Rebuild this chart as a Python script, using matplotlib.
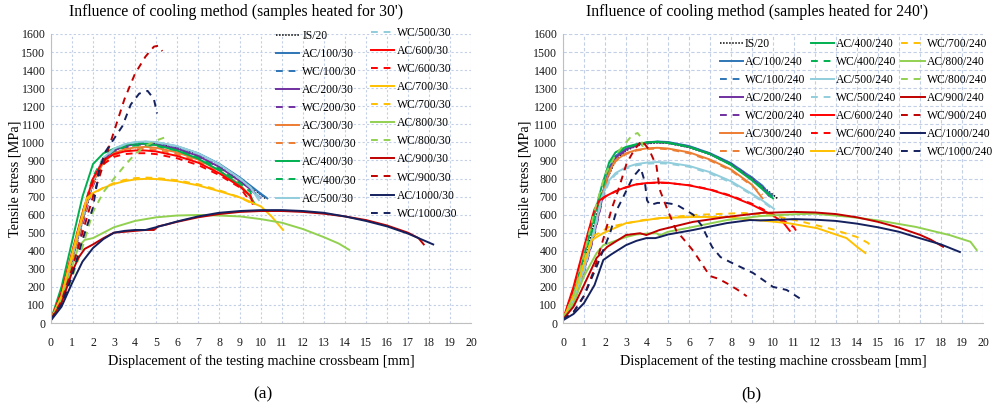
import matplotlib
matplotlib.use("Agg")
import matplotlib.pyplot as plt

plt.rcParams['font.family'] = ['Liberation Serif', 'DejaVu Serif']

# ---------------- data, panel (a): 30 min ----------------
is20 = ([0, 0.5, 1, 1.5, 2, 2.5, 3, 3.5, 4, 4.5, 5, 6, 7, 8, 9, 9.5, 10, 10.2],
        [20, 140, 340, 560, 770, 900, 955, 980, 993, 998, 995, 972, 935, 878, 800, 755, 710, 690])

xm30 = [0, 0.5, 1, 1.5, 2, 2.5, 3, 3.5, 4, 4.5, 5, 6, 7, 8, 9, 9.5]
ac100_30 = (xm30 + [10, 10.3], [20, 150, 360, 580, 790, 910, 960, 985, 998, 1003, 1000, 978, 940, 882, 805, 760, 715, 690])
wc100_30 = (xm30 + [10, 10.2], [20, 140, 340, 560, 770, 900, 955, 980, 995, 1000, 997, 975, 936, 878, 800, 755, 712, 695])
ac200_30 = (xm30 + [9.9], [20, 150, 350, 570, 780, 905, 955, 978, 990, 992, 988, 965, 925, 865, 785, 740, 700])
wc200_30 = (xm30 + [10.0], [20, 130, 320, 540, 760, 890, 945, 970, 985, 990, 986, 962, 922, 862, 785, 740, 690])
ac300_30 = (xm30 + [9.6], [20, 150, 360, 580, 780, 890, 940, 962, 972, 975, 970, 945, 905, 845, 765, 700, 672])
wc300_30 = (xm30, [20, 140, 340, 560, 770, 880, 930, 952, 962, 965, 960, 935, 895, 835, 760, 690])
ac400_30 = (xm30 + [9.7], [20, 200, 450, 700, 880, 940, 965, 985, 995, 993, 985, 955, 910, 845, 760, 700, 660])
wc400_30 = (xm30 + [9.6], [20, 160, 380, 610, 810, 915, 955, 975, 983, 985, 980, 955, 915, 855, 775, 725, 680])
ac500_30 = (xm30 + [9.9], [20, 150, 360, 580, 790, 915, 965, 990, 1002, 1005, 1002, 980, 940, 880, 800, 750, 680])
wc500_30 = (xm30 + [10.0], [20, 140, 350, 570, 780, 910, 962, 988, 1000, 1003, 1000, 978, 938, 878, 798, 750, 685])
ac600_30 = (xm30 + [9.6], [20, 170, 390, 610, 800, 900, 935, 950, 955, 955, 950, 925, 888, 830, 755, 705, 660])
wc600_30 = (xm30, [20, 150, 360, 580, 780, 880, 920, 935, 940, 940, 935, 912, 875, 820, 750, 670])
ac700_30 = ([0, 0.5, 1, 1.5, 1.7, 2, 2.5, 3, 3.5, 4, 4.5, 5, 6, 7, 8, 9, 10, 10.5, 11.05],
            [20, 150, 380, 600, 690, 720, 748, 770, 785, 795, 798, 797, 785, 762, 730, 695, 645, 590, 515])
wc700_30 = ([0, 0.5, 1, 1.5, 1.7, 2, 2.5, 3, 3.5, 4, 4.5, 5, 6, 7, 8, 9, 9.6],
            [20, 140, 360, 590, 680, 715, 750, 775, 792, 802, 805, 803, 790, 768, 735, 695, 660])
ac800_30 = ([0, 0.5, 1, 1.3, 1.6, 2, 2.5, 3, 4, 5, 6, 7, 8, 9, 10, 11, 12, 13, 13.7, 14.2],
            [20, 130, 310, 420, 460, 470, 500, 530, 565, 585, 595, 598, 595, 590, 575, 555, 520, 475, 440, 405])
wc800_30 = ([0, 0.5, 1, 1.5, 2, 2.5, 3, 3.5, 4, 4.5, 5, 5.6],
            [20, 100, 250, 420, 615, 725, 800, 870, 935, 980, 1010, 1035])
ac900_30 = ([0, 0.5, 1, 1.3, 1.6, 2, 2.5, 3, 3.5, 4, 4.5, 4.9, 5.1, 5.5, 6, 7, 8, 9, 10, 11, 12, 13, 14, 15, 16, 17, 17.5, 17.75],
            [20, 110, 280, 360, 410, 435, 470, 500, 505, 510, 515, 515, 535, 545, 560, 585, 603, 615, 620, 620, 615, 605, 590, 570, 540, 500, 470, 435])
wc900_30 = ([0, 0.5, 1, 1.5, 2, 2.5, 3, 3.5, 4, 4.5, 4.9, 5.1, 5.3],
            [20, 120, 300, 500, 700, 880, 1060, 1240, 1380, 1475, 1530, 1535, 1505])
ac1000_30 = ([0, 0.5, 1, 1.5, 2, 2.5, 3, 3.5, 4, 4.5, 5, 6, 7, 8, 9, 10, 11, 12, 13, 14, 15, 16, 17, 17.5, 18.2],
             [15, 90, 220, 340, 415, 465, 500, 510, 515, 515, 530, 562, 590, 610, 620, 625, 625, 620, 610, 590, 565, 535, 495, 470, 435])
wc1000_30 = ([0, 0.5, 1, 1.5, 2, 2.3, 2.6, 3, 3.4, 3.8, 4.2, 4.6, 4.9, 5.05],
             [20, 100, 260, 460, 640, 850, 950, 1020, 1090, 1210, 1270, 1285, 1240, 1160])

# ---------------- data, panel (b): 240 min ----------------
xm240 = [0, 0.5, 1, 1.5, 1.85, 2.2, 2.5, 3, 3.5, 4, 4.5, 5, 6, 7, 8, 9, 9.5]
ac100_240 = (xm240 + [9.9], [20, 130, 300, 520, 700, 860, 925, 965, 988, 1000, 1005, 1002, 980, 940, 885, 805, 760, 700])
wc100_240 = (xm240 + [10.0], [20, 120, 290, 510, 690, 850, 920, 962, 985, 998, 1003, 1000, 978, 938, 882, 805, 755, 700])
ac200_240 = (xm240 + [9.8], [20, 120, 290, 500, 680, 845, 915, 960, 985, 998, 1002, 998, 975, 935, 878, 795, 745, 705])
wc200_240 = (xm240 + [9.9], [20, 110, 280, 490, 670, 835, 910, 958, 983, 996, 1000, 997, 975, 936, 880, 800, 752, 700])
ac300_240 = (xm240, [20, 130, 300, 520, 700, 840, 900, 940, 958, 967, 970, 966, 945, 905, 850, 765, 690])
wc300_240 = (xm240, [20, 120, 290, 510, 690, 830, 895, 935, 955, 963, 966, 962, 940, 900, 845, 760, 710])
ac400_240 = (xm240 + [10.0], [20, 160, 370, 600, 760, 890, 945, 975, 990, 1000, 1003, 998, 975, 935, 875, 790, 740, 690])
wc400_240 = (xm240 + [9.95], [20, 140, 330, 560, 730, 870, 935, 970, 988, 998, 1002, 998, 976, 936, 878, 795, 748, 695])
ac500_240 = (xm240 + [10.05], [20, 130, 300, 520, 700, 790, 830, 862, 880, 888, 891, 888, 870, 835, 785, 715, 678, 632])
wc500_240 = (xm240 + [10.0], [20, 120, 290, 510, 690, 780, 822, 855, 873, 882, 885, 882, 865, 828, 778, 710, 672, 630])
ac600_240 = ([0, 0.5, 1, 1.5, 1.75, 2, 2.5, 3, 3.5, 4, 4.5, 5, 6, 7, 8, 9, 10, 10.5, 10.8],
             [20, 200, 420, 630, 680, 700, 730, 752, 768, 775, 778, 776, 762, 738, 702, 655, 595, 555, 510])
wc600_240 = ([0, 0.5, 1, 1.5, 1.75, 2, 2.5, 3, 3.5, 4, 4.5, 5, 6, 7, 8, 9, 10, 10.5, 11.0, 11.2],
             [20, 190, 410, 620, 675, 698, 728, 750, 767, 774, 777, 775, 763, 740, 705, 660, 602, 567, 530, 490])
ac700_240 = ([0, 0.5, 1, 1.37, 1.9, 3, 4.6, 6.2, 7.8, 8.9, 9.4, 10.7, 12.1, 13.5, 14, 14.4],
             [20, 150, 330, 459, 497, 553, 581, 587, 587, 572, 568, 553, 525, 470, 422, 387])
wc700_240 = ([0, 0.5, 1, 1.4, 2.2, 3.8, 6.2, 8.6, 10, 11.3, 12.9, 14, 14.5, 14.8],
             [20, 150, 340, 478, 532, 570, 598, 609, 595, 563, 517, 476, 445, 415])
ac800_240 = ([0, 0.5, 1, 1.6, 1.92, 3, 3.5, 4, 4.46, 4.6, 5, 6.2, 7.8, 9.4, 11, 12, 13.7, 15, 16.8, 18.4, 19.4, 19.7],
             [20, 110, 260, 387, 431, 476, 490, 495, 497, 485, 505, 532, 570, 592, 602, 605, 587, 568, 532, 487, 450, 404])
wc800_240 = ([0, 0.5, 1, 1.5, 2, 2.5, 3, 3.3, 3.55, 3.7, 3.8],
             [20, 150, 380, 620, 820, 930, 1000, 1040, 1052, 1030, 975])
ac900_240 = ([0, 0.5, 1, 1.6, 2.1, 3, 3.67, 3.97, 4.6, 6.2, 7.8, 9.4, 11, 12, 13, 14, 15, 16, 17, 17.5, 18.1],
             [20, 90, 210, 360, 421, 487, 497, 487, 515, 560, 587, 609, 615, 612, 603, 585, 560, 528, 488, 462, 422])
wc900_240 = ([0, 0.5, 1, 1.5, 2.0, 2.3, 2.63, 3.03, 3.4, 3.75, 4.1, 4.45, 4.6, 5.0, 5.4, 5.7, 6.2, 6.7, 7.0, 7.4, 7.8, 8.3, 8.75],
             [20, 60, 150, 300, 497, 626, 736, 884, 960, 1010, 960, 870, 740, 620, 510, 470, 400, 312, 260, 245, 220, 185, 148])
ac1000_240 = ([0, 0.5, 1, 1.5, 1.92, 2.3, 3, 3.5, 3.97, 4.4, 4.6, 5, 6.2, 7.8, 8.9, 9.4, 11, 12, 13, 14, 15, 16, 16.8, 18, 18.9],
              [15, 50, 110, 210, 349, 380, 431, 455, 470, 470, 476, 490, 515, 553, 570, 568, 575, 572, 565, 550, 530, 505, 476, 435, 393])
wc1000_240 = ([0, 0.5, 1, 1.6, 2.24, 2.56, 2.8, 3.33, 3.7, 3.9, 4.0, 4.14, 4.5, 4.95, 5.41, 6.2, 6.6, 7.1, 7.5, 7.95, 9.05, 10.0, 10.65, 11.4],
              [20, 60, 150, 312, 497, 626, 681, 808, 858, 780, 680, 653, 665, 664, 655, 600, 540, 421, 365, 338, 277, 200, 183, 127])

series_30 = [("IS/20", is20),
             ("AC/100/30", ac100_30), ("WC/100/30", wc100_30),
             ("AC/200/30", ac200_30), ("WC/200/30", wc200_30),
             ("AC/300/30", ac300_30), ("WC/300/30", wc300_30),
             ("AC/400/30", ac400_30), ("WC/400/30", wc400_30),
             ("AC/500/30", ac500_30), ("WC/500/30", wc500_30),
             ("AC/600/30", ac600_30), ("WC/600/30", wc600_30),
             ("AC/700/30", ac700_30), ("WC/700/30", wc700_30),
             ("AC/800/30", ac800_30), ("WC/800/30", wc800_30),
             ("AC/900/30", ac900_30), ("WC/900/30", wc900_30),
             ("AC/1000/30", ac1000_30), ("WC/1000/30", wc1000_30)]

series_240 = [("IS/20", is20),
              ("AC/100/240", ac100_240), ("WC/100/240", wc100_240),
              ("AC/200/240", ac200_240), ("WC/200/240", wc200_240),
              ("AC/300/240", ac300_240), ("WC/300/240", wc300_240),
              ("AC/400/240", ac400_240), ("WC/400/240", wc400_240),
              ("AC/500/240", ac500_240), ("WC/500/240", wc500_240),
              ("AC/600/240", ac600_240), ("WC/600/240", wc600_240),
              ("AC/700/240", ac700_240), ("WC/700/240", wc700_240),
              ("AC/800/240", ac800_240), ("WC/800/240", wc800_240),
              ("AC/900/240", ac900_240), ("WC/900/240", wc900_240),
              ("AC/1000/240", ac1000_240), ("WC/1000/240", wc1000_240)]

temp_colors = {"100": "#2E75B6", "200": "#7030A0", "300": "#ED7D31", "400": "#00B050",
               "500": "#92CDDC", "600": "#FF0000", "700": "#FFC000", "800": "#92D050",
               "900": "#C00000", "1000": "#14215E"}


def draw_panel(ax, series, gridstyle):
    for label, (xs, ys) in series:
        if label == "IS/20":
            ax.plot(xs, ys, color="black", ls=(0, (1, 1)), lw=1.1, label=label)
            continue
        kind, temp, _ = label.split("/")
        c = temp_colors[temp]
        if kind == "AC":
            ax.plot(xs, ys, color=c, lw=1.4, label=label)
        else:
            ax.plot(xs, ys, color=c, lw=1.4, ls=(0, (3.5, 3)), label=label)
    ax.set_xlim(0, 20)
    ax.set_ylim(0, 1600)
    ax.set_xticks(range(0, 21))
    ax.set_yticks(range(0, 1601, 100))
    ax.grid(True, color="#C3CFE6", ls=gridstyle, lw=0.8)
    ax.set_axisbelow(True)
    for s in ["top", "right"]:
        ax.spines[s].set_visible(False)
    for s in ["left", "bottom"]:
        ax.spines[s].set_color("#BFBFBF")
    ax.tick_params(length=0, labelsize=8.6, colors="#1a1a1a")
    ax.tick_params(axis="x", pad=10)
    ax.tick_params(axis="y", pad=4)
    ax.set_xlabel("Displacement of the testing machine crossbeam [mm]", fontsize=10.3)
    ax.set_ylabel("Tensile stress [MPa]", fontsize=10.3)
    ax.xaxis.set_label_coords(0.5, -0.107)


fig = plt.figure(figsize=(9.97, 4.09), dpi=100)
W, H = 997, 409
ax1 = fig.add_axes([51 / W, 1 - 323 / H, 420 / W, 289 / H])
ax2 = fig.add_axes([563 / W, 1 - 323 / H, 420 / W, 289 / H])

draw_panel(ax1, series_30, (0, (2, 2)))
draw_panel(ax2, series_240, (0, (3, 2)))
ax1.yaxis.set_label_coords(-0.071, 0.5)
ax2.yaxis.set_label_coords(-0.074, 0.5)

leg_kw = dict(loc="upper left", frameon=False, fontsize=8.4, handlelength=2.0,
              labelspacing=0.52, borderaxespad=0, borderpad=0)
h1, l1 = ax1.get_legend_handles_labels()
fig.legend(h1[:10], l1[:10], bbox_to_anchor=(276 / W, 1 - 30 / H), ncol=1,
           handletextpad=0.25, **leg_kw)
fig.legend(h1[10:], l1[10:], bbox_to_anchor=(371 / W, 1 - 27 / H), ncol=1,
           handletextpad=0.25, **leg_kw)
h2, l2 = ax2.get_legend_handles_labels()
fig.legend(h2, l2, bbox_to_anchor=(720 / W, 1 - 38 / H), ncol=3,
           handletextpad=0.15, columnspacing=0.45, **leg_kw)

fig.text(236 / W, 1 - 12 / H, "Influence of cooling method (samples heated for 30')",
         ha="center", va="center", fontsize=11.3)
fig.text(757 / W, 1 - 12 / H, "Influence of cooling method (samples heated for 240')",
         ha="center", va="center", fontsize=11.3)
fig.text(263 / W, 1 - 394 / H, "(a)", ha="center", va="center", fontsize=12.5)
fig.text(751 / W, 1 - 394 / H, "(b)", ha="center", va="center", fontsize=12.5)

fig.savefig("out.png", dpi=100)
